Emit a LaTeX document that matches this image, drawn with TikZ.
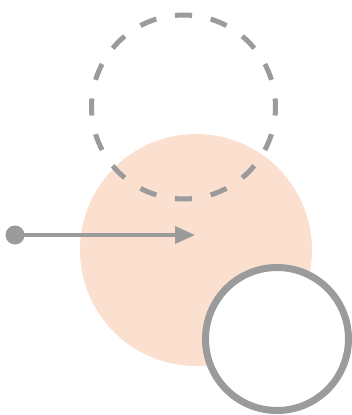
\documentclass[tikz,border=0pt]{standalone}
\usetikzlibrary{arrows.meta}
\definecolor{ringgray}{HTML}{9B9B9B}
\definecolor{peach}{HTML}{FBE0D0}
\begin{document}
\begin{tikzpicture}[x=1pt,y=-1pt,
  dashring/.style={circle,draw=ringgray,line width=5pt,minimum size=184pt,inner sep=0pt,
    dash pattern=on 17.1pt off 19.03pt,dash phase=8.55pt},
  blob/.style={circle,fill=peach,minimum size=232pt,inner sep=0pt},
  solidring/.style={circle,draw=ringgray,fill=white,line width=7pt,minimum size=143pt,inner sep=0pt},
  startdot/.style={circle,fill=ringgray,minimum size=19pt,inner sep=0pt},
  pointer/.style={draw=ringgray,line width=3.5pt,-{Triangle[length=20pt,width=17pt]}}]
\useasboundingbox (0,0) rectangle (352,415);
\node[blob] (peach) at (196,250) {};
\node[dashring] (dashed) at (183.5,107) {};
\node[solidring] (ring) at (277,339) {};
\node[startdot] (dot) at (15,235) {};
\coordinate (tip) at (195,235);
\draw[pointer] (dot.center) -- (tip);
\end{tikzpicture}
\end{document}
